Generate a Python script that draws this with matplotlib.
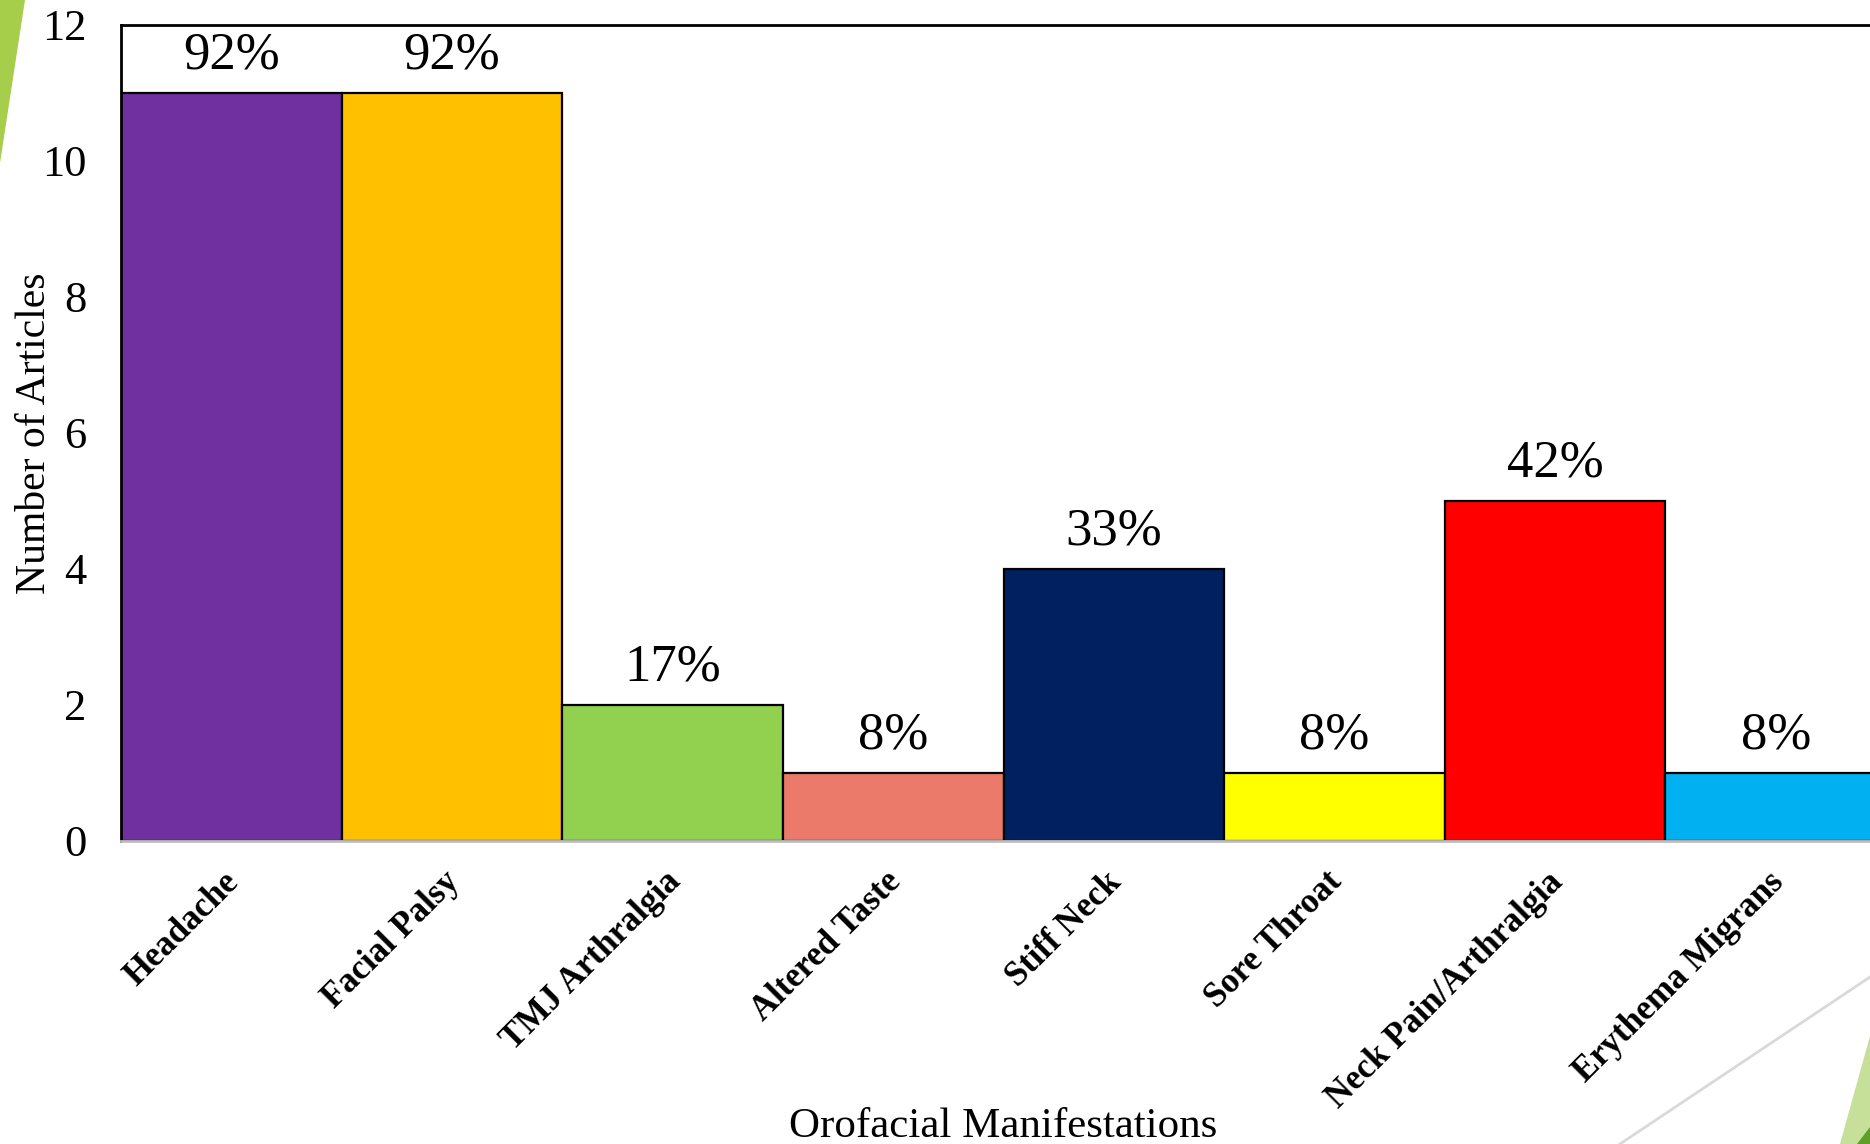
import matplotlib
matplotlib.use("Agg")
import matplotlib.pyplot as plt
from matplotlib.patches import Polygon
from matplotlib.lines import Line2D
from matplotlib.transforms import ScaledTranslation

plt.rcParams['font.family'] = ['Liberation Serif', 'DejaVu Serif']

categories = ["Headache", "Facial Palsy", "TMJ Arthralgia", "Altered Taste",
              "Stiff Neck", "Sore Throat", "Neck Pain/Arthralgia", "Erythema Migrans"]
counts = [11, 11, 2, 1, 4, 1, 5, 1]
pct_labels = ["92%", "92%", "17%", "8%", "33%", "8%", "42%", "8%"]
colors = ["#7030A0", "#FFC000", "#92D050", "#EC7A6A",
          "#002060", "#FFFF00", "#FF0000", "#00B0F0"]
y_ticks = [0, 2, 4, 6, 8, 10, 12]

W, H = 1870, 1144
fig = plt.figure(figsize=(W / 100, H / 100), dpi=100)

# background decorations (pixel coords from top-left)
def fp(x, y):
    return (x / W, 1 - y / H)

fig.patches.append(Polygon([fp(0, 0), fp(25, 0), fp(0, 163)], closed=True,
                           transform=fig.transFigure, facecolor="#A6CE4B",
                           edgecolor="none", zorder=0))
fig.patches.append(Polygon([fp(1840, 1144), fp(1870, 1036), fp(1870, 1144)], closed=True,
                           transform=fig.transFigure, facecolor="#C6E09A",
                           edgecolor="none", zorder=0))
fig.patches.append(Polygon([fp(1857, 1144), fp(1870, 1127), fp(1870, 1144)], closed=True,
                           transform=fig.transFigure, facecolor="#5E9F2A",
                           edgecolor="none", zorder=0))
fig.lines.append(Line2D([1620 / W, 1870 / W], [0, 1 - 977 / H],
                        transform=fig.transFigure, color="#D9D9D9", lw=2, zorder=0))

ax_left, ax_right = 121, 1886
ax_top, ax_bot = 25, 841
ax = fig.add_axes([ax_left / W, 1 - ax_bot / H, (ax_right - ax_left) / W,
                   (ax_bot - ax_top) / H])
ax.patch.set_alpha(0)

x = list(range(len(categories)))
ax.bar(x, counts, width=1.0, color=colors, edgecolor="black", linewidth=1.6, zorder=2)
ax.set_xlim(-0.5, len(categories) - 0.5)
ax.set_ylim(0, 12)

for xi, c, lab in zip(x, counts, pct_labels):
    ax.annotate(lab, (xi, c), xytext=(0, 10), textcoords="offset points",
                ha="center", va="bottom", fontsize=38)

ax.set_yticks(y_ticks)
ax.set_yticklabels([str(t) for t in y_ticks], fontsize=32)
ax.tick_params(axis="y", length=0, pad=25)
ax.set_xticks(x)
ax.set_xticklabels(categories, fontsize=25, fontweight="bold", rotation=45,
                   ha="right", va="center", rotation_mode="anchor")
ax.tick_params(axis="x", length=0, pad=26)
for lab in ax.get_xticklabels():
    lab.set_transform(lab.get_transform() + ScaledTranslation(0.03, 0, fig.dpi_scale_trans))

for s in ["left", "top"]:
    ax.spines[s].set_color("black")
    ax.spines[s].set_linewidth(2)
ax.spines["right"].set_visible(False)
ax.spines["bottom"].set_color("#BFBFBF")
ax.spines["bottom"].set_linewidth(2)

ax.set_ylabel("Number of Articles", fontsize=30)
ax.yaxis.set_label_coords(-0.038, 0.5)
ax.set_xlabel("Orofacial Manifestations", fontsize=31)
ax.xaxis.label.set_va("baseline")
ax.xaxis.set_label_coords(0.5, -(1137 - ax_bot) / (ax_bot - ax_top))

fig.savefig("out.png", dpi=100)
